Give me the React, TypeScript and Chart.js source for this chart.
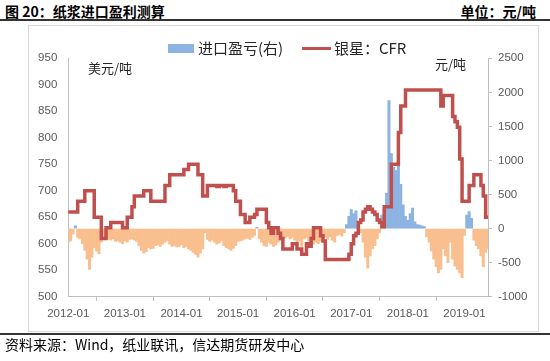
import { useEffect, useRef } from 'react';
import { Chart, registerables } from 'chart.js';

Chart.register(...registerables);

// Half-month periods, 2012-01 (first half) to 2019-06 (first half)
const periods: string[] = [];
for (let y = 2012; y <= 2019; y++) {
  for (let m = 1; m <= 12; m++) {
    const mm = String(m).padStart(2, '0');
    for (const d of ['01', '16']) {
      if (periods.length < 179) periods.push(`${y}-${mm}-${d}`);
    }
  }
}

const tickLabels = ['2012-01', '2013-01', '2014-01', '2015-01', '2016-01', '2017-01', '2018-01', '2019-01'];

// 银星：CFR (USD/t), left axis
const cfrSilverStar = [
  // 2012
  660, 660, 660, 660, 680, 680, 680, 700, 700, 700, 700, 650, 650, 650, 610, 610, 630, 630, 640, 640, 640, 640, 640, 630,
  // 2013
  630, 650, 650, 670, 690, 690, 690, 690, 700, 700, 700, 680, 680, 680, 680, 680, 680, 710, 710, 730, 730, 730, 730, 730,
  // 2014
  730, 740, 740, 750, 750, 750, 750, 730, 730, 690, 690, 710, 710, 710, 710, 708, 710, 710, 708, 710, 710, 710, 700, 680,
  // 2015
  680, 655, 655, 640, 640, 650, 650, 655, 665, 665, 665, 665, 640, 630, 620, 630, 630, 620, 610, 590, 590, 590, 590, 600,
  // 2016
  600, 590, 590, 580, 580, 600, 595, 610, 630, 630, 630, 615, 605, 570, 570, 570, 570, 570, 570, 570, 570, 570, 570, 580,
  // 2017
  600, 615, 620, 640, 645, 660, 665, 670, 665, 660, 655, 645, 640, 632, 670, 670, 670, 750, 750, 750, 810, 860, 860, 890,
  // 2018
  890, 890, 890, 890, 890, 890, 890, 890, 890, 890, 890, 890, 890, 890, 860, 880, 880, 880, 880, 840, 830, 820, 760, 680,
  // 2019
  680, 680, 710, 710, 730, 730, 730, 710, 690, 650, 650,
];

// 进口盈亏 (CNY/t), right axis
const importProfit = [
  // 2012
  -200, -180, -80, 40, -130, -150, -220, -320, -450, -600, -420, -280, -330, -370, -200, -130, -120, -160, -170, -150, -190, -180, -200, -220,
  // 2013
  -180, -200, -160, -150, -170, -190, -250, -320, -360, -340, -280, -300, -290, -250, -240, -260, -230, -200, -180, -230, -260, -250, -270, -260,
  // 2014
  -240, -280, -270, -300, -320, -350, -380, -420, -360, -300, -60, -160, -190, -170, -200, -230, -210, -180, -250, -280, -300, -320, -290, -250,
  // 2015
  -190, -180, -170, -150, -140, -160, -130, -100, 20, -150, -200, -250, -260, -200, -230, -260, -240, -200, -170, -130, -140, -120, -150, -130,
  // 2016
  -170, -200, -180, -260, -150, -130, -180, -190, -230, -200, -220, -180, -150, -130, -160, -120, -170, -200, -100, -90, -110, -60, 60, 180,
  // 2017
  280, 220, 260, 80, -60, -200, -420, -580, -400, -300, -250, -150, -60, 200, 300, 520, 1880, 1100, 900, 850, 1150, 650, 350, 180,
  // 2018
  120, 220, 300, 100, 60, 50, 40, 30, -120, -200, -330, -450, -560, -650, -600, -300, -400, -500, -200, -450, -550, -600, -650, -720,
  // 2019
  -100, 200, 250, 150, -170, -250, -300, -400, -560, -350, -300,
];

const BLUE = '#8DB3E2';
const ORANGE = '#F9BF8F';
const RED = '#C0504D';
const AXIS = '#BFBFBF';
const TICK = '#595959';
const CJK = '"Noto Sans CJK SC", "Noto Sans", sans-serif';
const NUM = '"Liberation Sans", Arial, sans-serif';

export default function App() {
  const ref = useRef<HTMLCanvasElement | null>(null);

  useEffect(() => {
    if (!ref.current) return;
    const tickFont = { family: NUM, size: 11.5 };
    const chart = new Chart(ref.current, {
      type: 'bar',
      data: {
        labels: periods,
        datasets: [
          {
            type: 'line',
            label: '银星：CFR',
            data: cfrSilverStar,
            yAxisID: 'y',
            borderColor: RED,
            backgroundColor: RED,
            borderWidth: 3.5,
            pointRadius: 0,
            stepped: true,
            fill: false,
            order: 0,
          } as any,
          {
            type: 'bar',
            label: '进口盈亏(右)',
            data: importProfit,
            yAxisID: 'y1',
            backgroundColor: importProfit.map((v) => (v >= 0 ? BLUE : ORANGE)),
            borderWidth: 0,
            barPercentage: 1,
            categoryPercentage: 1,
            order: 1,
          } as any,
        ],
      },
      options: {
        animation: false,
        responsive: false,
        devicePixelRatio: 1,
        layout: { padding: { top: 58.3, left: 0, right: 0, bottom: 0 } },
        plugins: { legend: { display: false }, tooltip: { enabled: false } },
        scales: {
          x: {
            type: 'category',
            offset: false,
            grid: { display: true, drawOnChartArea: false, drawTicks: true, tickLength: 4, color: AXIS },
            border: { display: true, color: AXIS },
            ticks: {
              autoSkip: false,
              maxRotation: 0,
              minRotation: 0,
              padding: 6,
              color: TICK,
              font: tickFont,
              callback: (value: any) => periods[Number(value)].slice(0, 7),
            },
            afterBuildTicks: (scale: any) => {
              scale.ticks = scale.ticks.filter((t: any) => {
                const p = periods[t.value];
                return p.endsWith('-01') && p.slice(5, 7) === '01' && tickLabels.includes(p.slice(0, 7));
              });
            },
            afterFit: (scale: any) => {
              scale.height = 361 - 296.7;
            },
          },
          y: {
            position: 'left',
            min: 500,
            max: 950,
            ticks: { stepSize: 50, padding: 11, color: TICK, font: tickFont, callback: (v: any) => String(v) },
            grid: { display: true, drawOnChartArea: false, drawTicks: false, color: AXIS },
            border: { display: true, color: AXIS },
            afterFit: (scale: any) => {
              scale.width = 68.3;
            },
          },
          y1: {
            position: 'right',
            min: -1000,
            max: 2500,
            ticks: { stepSize: 500, padding: 6, color: TICK, font: tickFont, callback: (v: any) => String(v) },
            grid: { display: true, drawOnChartArea: false, drawTicks: true, tickLength: 4, color: AXIS },
            border: { display: true, color: AXIS },
            afterFit: (scale: any) => {
              scale.width = 550 - 488;
            },
          },
        },
      },
    } as any);
    return () => chart.destroy();
  }, []);

  const abs = (s: React.CSSProperties): React.CSSProperties => ({ position: 'absolute', whiteSpace: 'nowrap', ...s });

  return (
    <div style={{ position: 'fixed', left: 0, top: 0, width: 550, height: 361, background: '#fff', overflow: 'hidden' }}>
      <div style={abs({ left: 5, top: 3, fontFamily: CJK, fontWeight: 700, fontSize: 14, lineHeight: '16px', color: '#000' })}>
        图 20：纸浆进口盈利测算
      </div>
      <div style={abs({ right: 14, top: 3, fontFamily: CJK, fontWeight: 700, fontSize: 14, lineHeight: '16px', color: '#000' })}>
        单位：元/吨
      </div>
      <div style={abs({ left: 0, top: 19, width: 550, height: 2, background: '#333' })} />
      <div style={abs({ left: 28, top: 25, width: 509, height: 305, border: '1px solid #D9D9D9' })} />
      <canvas ref={ref} width={550} height={361} style={{ position: 'absolute', left: 0, top: 0, width: 550, height: 361 }} />
      {/* legend */}
      <div style={abs({ left: 167.5, top: 44, width: 26.5, height: 9, background: BLUE })} />
      <div style={abs({ left: 198, top: 39, fontFamily: CJK, fontSize: 15, lineHeight: '18px', color: '#262626' })}>进口盈亏(右)</div>
      <div style={abs({ left: 302, top: 46.5, width: 29, height: 3.5, background: RED })} />
      <div style={abs({ left: 334, top: 39, fontFamily: CJK, fontSize: 15, lineHeight: '18px', color: '#262626' })}>银星：CFR</div>
      {/* unit labels */}
      <div style={abs({ left: 88, top: 60, fontFamily: CJK, fontSize: 13, lineHeight: '16px', color: '#262626' })}>美元/吨</div>
      <div style={abs({ left: 435, top: 56, fontFamily: CJK, fontSize: 13, lineHeight: '16px', color: '#262626' })}>元/吨</div>
      <div style={abs({ left: 0, top: 333, width: 550, height: 2, background: '#333' })} />
      <div style={abs({ left: 5, top: 335.5, fontFamily: CJK, fontSize: 14, lineHeight: '16px', color: '#000' })}>
        资料来源：Wind，纸业联讯，信达期货研发中心
      </div>
    </div>
  );
}
